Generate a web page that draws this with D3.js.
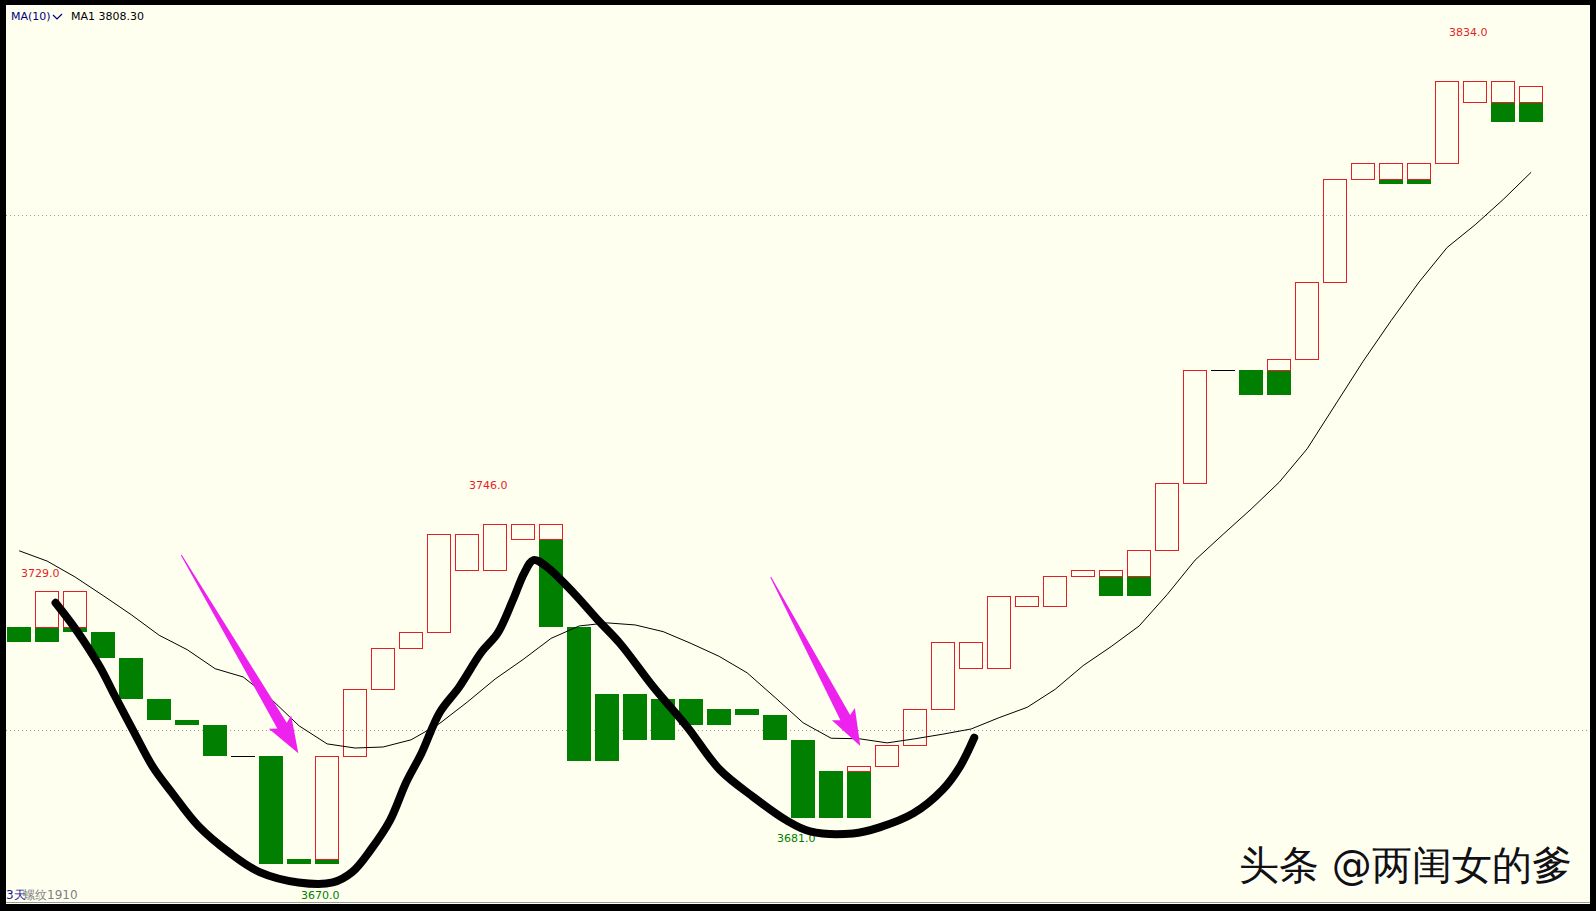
<!DOCTYPE html>
<html>
<head>
<meta charset="utf-8">
<script src="https://cdnjs.cloudflare.com/ajax/libs/d3/7.8.5/d3.min.js"></script>
<style>
  html, body { margin: 0; padding: 0; background: #000; }
  #chart { width: 1596px; height: 911px; }
  text { font-family: "DejaVu Sans", Verdana, sans-serif; }
</style>
</head>
<body>
<div id="chart"></div>
<script>
// tower-line boxes, price levels (null = no part)
var redTop = [null,3727,3727,null,null,null,null,null,null,null,null,3695,3708,3716,3719,3738,3738,3740,3740,3740,
  null,null,null,null,null,null,null,null,null,null,3693,3697,3704,3717,3717,3726,3726,3730,3731,3731,
  3735,3748,3770,null,null,3772,3787,3807,3810,3810,3810,3826,3826,3826,3825];
var redBot = [null,3720,3720,null,null,null,null,null,null,null,null,3675,3695,3708,3716,3719,3731,3731,3737,3737,
  null,null,null,null,null,null,null,null,null,null,3692,3693,3697,3704,3712,3712,3724,3724,3730,3730,
  3730,3735,3748,null,null,3770,3772,3787,3807,3807,3807,3810,3822,3822,3822];
var greenTop = [3720,3720,3720,3719,3714,3706,3702,3701,null,3695,3675,3675,null,null,null,null,null,null,null,3737,
  3720,3707,3707,3706,3706,3704,3704,3703,3698,3692,3692,null,null,null,null,null,null,null,null,3730,
  3730,null,null,null,3770,3770,null,null,null,3807,3807,null,null,3822,3822];
var greenBot = [3717,3717,3719,3714,3706,3702,3701,3695,null,3674,3674,3674,null,null,null,null,null,null,null,3720,
  3694,3694,3698,3698,3701,3701,3703,3698,3683,3683,3683,null,null,null,null,null,null,null,null,3726,
  3726,null,null,null,3765,3765,null,null,null,3806,3806,null,null,3818,3818];
// unchanged bars drawn as a flat line
var flatBars = [{i: 8, v: 3695}, {i: 43, v: 3770}];

var ma10 = [3734.8,3732.8,3729.7,3726.1,3722.4,3718.4,3715.6,3711.9,3710.3,3706.0,
  3700.8,3697.3,3696.5,3696.7,3698.1,3701.2,3705.4,3709.9,3713.7,3717.8,
  3720.2,3720.8,3720.4,3719.1,3716.8,3714.3,3711.1,3706.3,3701.4,3698.4,
  3698.3,3697.5,3698.3,3699.2,3700.2,3702.4,3704.4,3707.9,3712.5,3716.2,
  3720.2,3726.3,3733.0,3738.0,3742.9,3748.1,3754.6,3763.1,3771.6,3779.5,
  3787.0,3793.7,3798.1,3803.0,3808.3];

var highLabels = [{i: 1, v: 3729.0}, {i: 17, v: 3746.0}, {i: 52, v: 3834.0}];
var lowLabels = [{i: 28, v: 3681.0}, {i: 11, v: 3670.0}];
var gridLevels = [3700, 3800];

// hand drawn annotation: [bar position, price]
var freehand = [[1.30,3724.7],[2.04,3719.4],[2.88,3712.3],[3.42,3706.6],[4.12,3699.4],[4.77,3692.9],
  [5.46,3687.8],[6.41,3681.3],[7.53,3676.1],[8.59,3672.4],[9.97,3670.4],[11.20,3670.4],[11.89,3672.4],
  [12.55,3676.7],[13.24,3682.4],[13.82,3689.8],[14.37,3695.5],[15.02,3703.4],[15.71,3708.3],[16.51,3715.1],
  [17.09,3718.8],[17.64,3725.3],[18.04,3730.5],[18.37,3733.0],[18.84,3731.7],[19.82,3726.5],[20.66,3721.4],
  [21.46,3716.8],[22.66,3708.3],[23.86,3700.6],[25.02,3692.3],[26.22,3687.0],[27.42,3682.4],[28.25,3680.3],
  [29.78,3679.9],[30.73,3681.1],[31.93,3683.8],[32.98,3688.4],[33.60,3692.9],[34.11,3698.5]];
var arrows = [
  {from: [5.79, 3734.0], to: [9.97, 3695.5]},
  {from: [26.84, 3729.7], to: [30.04, 3696.9]}
];

var W = 1596, H = 911;
var RED = "#e41e26", GREEN = "#007f00", BG = "#fffff0";

var svg = d3.select("#chart").append("svg")
  .attr("width", W).attr("height", H);

svg.append("rect").attr("width", W).attr("height", H).attr("fill", "#000");
svg.append("rect").attr("x", 6).attr("y", 5).attr("width", 1584).attr("height", 899).attr("fill", BG);
svg.append("line").attr("x1", 6).attr("x2", 1590).attr("y1", 902.5).attr("y2", 902.5)
  .attr("stroke", "#9a9a9a").attr("stroke-width", 1);

var x = d3.scaleBand().domain(d3.range(ma10.length))
  .range([5.15, 1545.15]).paddingInner(0.132).paddingOuter(0.066);
var bw = x.bandwidth();
var xc = function(i) { return x(i) + bw / 2; };
var xPos = d3.scaleLinear().domain([0, ma10.length - 1]).range([xc(0), xc(ma10.length - 1)]);
var y = d3.scaleLinear().domain([3700, 3800]).range([730, 215]);

var plot = svg.append("g");

plot.selectAll(".grid").data(gridLevels).enter().append("line")
  .attr("x1", 6).attr("x2", 1590)
  .attr("y1", function(d) { return Math.round(y(d)) + 0.5; })
  .attr("y2", function(d) { return Math.round(y(d)) + 0.5; })
  .attr("stroke", "#9c9c9c").attr("stroke-dasharray", "1,3");

var idx = d3.range(ma10.length);

plot.selectAll(".green").data(idx.filter(function(i) { return greenTop[i] != null; }))
  .enter().append("rect")
  .attr("x", function(i) { return Math.round(x(i)); })
  .attr("width", Math.round(bw))
  .attr("y", function(i) { return Math.round(y(greenTop[i])); })
  .attr("height", function(i) { return Math.max(1, Math.round(y(greenBot[i])) - Math.round(y(greenTop[i]))); })
  .attr("fill", GREEN);

plot.selectAll(".red").data(idx.filter(function(i) { return redTop[i] != null; }))
  .enter().append("rect")
  .attr("x", function(i) { return Math.round(x(i)) + 0.5; })
  .attr("width", Math.round(bw) - 1)
  .attr("y", function(i) { return Math.round(y(redTop[i])) + 0.5; })
  .attr("height", function(i) { return Math.round(y(redBot[i])) - Math.round(y(redTop[i])); })
  .attr("fill", "none").attr("stroke", RED).attr("stroke-width", 1);

plot.selectAll(".flat").data(flatBars).enter().append("line")
  .attr("x1", function(d) { return Math.round(x(d.i)); })
  .attr("x2", function(d) { return Math.round(x(d.i) + bw); })
  .attr("y1", function(d) { return Math.round(y(d.v)) + 0.5; })
  .attr("y2", function(d) { return Math.round(y(d.v)) + 0.5; })
  .attr("stroke", "#000").attr("stroke-width", 1);

plot.append("path").datum(ma10)
  .attr("d", d3.line().x(function(d, i) { return xc(i); }).y(function(d) { return y(d); }))
  .attr("fill", "none").attr("stroke", "#000").attr("stroke-width", 1);

// labels of extreme prices
plot.selectAll(".hi").data(highLabels).enter().append("text")
  .attr("x", function(d) { return xc(d.i) - 7; })
  .attr("y", function(d) { return y(d.v) - 4; })
  .attr("text-anchor", "middle").attr("font-size", 11).attr("fill", RED)
  .text(function(d) { return d.v.toFixed(1); });
plot.selectAll(".lo").data(lowLabels).enter().append("text")
  .attr("x", function(d) { return xc(d.i) - 7; })
  .attr("y", function(d) { return y(d.v) + 14.5; })
  .attr("text-anchor", "middle").attr("font-size", 11).attr("fill", GREEN)
  .text(function(d) { return d.v.toFixed(1); });

// freehand black curve
plot.append("path").datum(freehand)
  .attr("d", d3.line().curve(d3.curveCatmullRom)
    .x(function(d) { return xPos(d[0]); }).y(function(d) { return y(d[1]); }))
  .attr("fill", "none").attr("stroke", "#000").attr("stroke-width", 8)
  .attr("stroke-linecap", "round").attr("stroke-linejoin", "round");

// magenta arrows
arrows.forEach(function(a) {
  var x0 = xPos(a.from[0]), y0 = y(a.from[1]), x1 = xPos(a.to[0]), y1 = y(a.to[1]);
  var dx = x1 - x0, dy = y1 - y0, len = Math.sqrt(dx * dx + dy * dy);
  var ux = dx / len, uy = dy / len, nx = -uy, ny = ux;
  var head = 32, hw = 13, sw = 5.5;
  var bx = x1 - ux * head, by = y1 - uy * head;
  var pts = [
    [x0 + nx * 0.5, y0 + ny * 0.5],
    [bx + nx * sw, by + ny * sw],
    [bx + nx * hw - ux * 4, by + ny * hw - uy * 4],
    [x1, y1],
    [bx - nx * hw - ux * 4, by - ny * hw - uy * 4],
    [bx - nx * sw, by - ny * sw],
    [x0 - nx * 0.5, y0 - ny * 0.5]
  ];
  plot.append("polygon").attr("points", pts.map(function(p) { return p.join(","); }).join(" "))
    .attr("fill", "#ee22ee");
});

// header
var hdr = svg.append("text").attr("x", 11).attr("y", 20).attr("font-size", 11);
hdr.append("tspan").attr("fill", "#000080").text("MA(10)");
svg.append("path").attr("d", "M53,15 L57,19 L62,14").attr("fill", "none")
  .attr("stroke", "#000080").attr("stroke-width", 1.2);
svg.append("text").attr("x", 71).attr("y", 20).attr("font-size", 11).attr("fill", "#000")
  .text("MA1 " + ma10[ma10.length - 1].toFixed(2));

// footer
svg.append("text").attr("x", 6).attr("y", 899).attr("font-size", 12)
  .attr("font-family", "'Noto Sans CJK SC', sans-serif").attr("fill", "#1a1aa0").text("3天");
svg.append("text").attr("x", 23).attr("y", 899).attr("font-size", 12)
  .attr("font-family", "'Noto Sans CJK SC', sans-serif").attr("fill", "#808080").text("螺纹1910");

// watermark
var wm = "头条 @两闺女的爹";
svg.append("text").attr("x", 1241).attr("y", 881).attr("font-size", 40)
  .attr("font-family", "'Noto Sans CJK SC', sans-serif").attr("fill", "#fff").text(wm);
svg.append("text").attr("x", 1239).attr("y", 879).attr("font-size", 40)
  .attr("font-family", "'Noto Sans CJK SC', sans-serif").attr("fill", "#111").text(wm);
</script>
</body>
</html>
